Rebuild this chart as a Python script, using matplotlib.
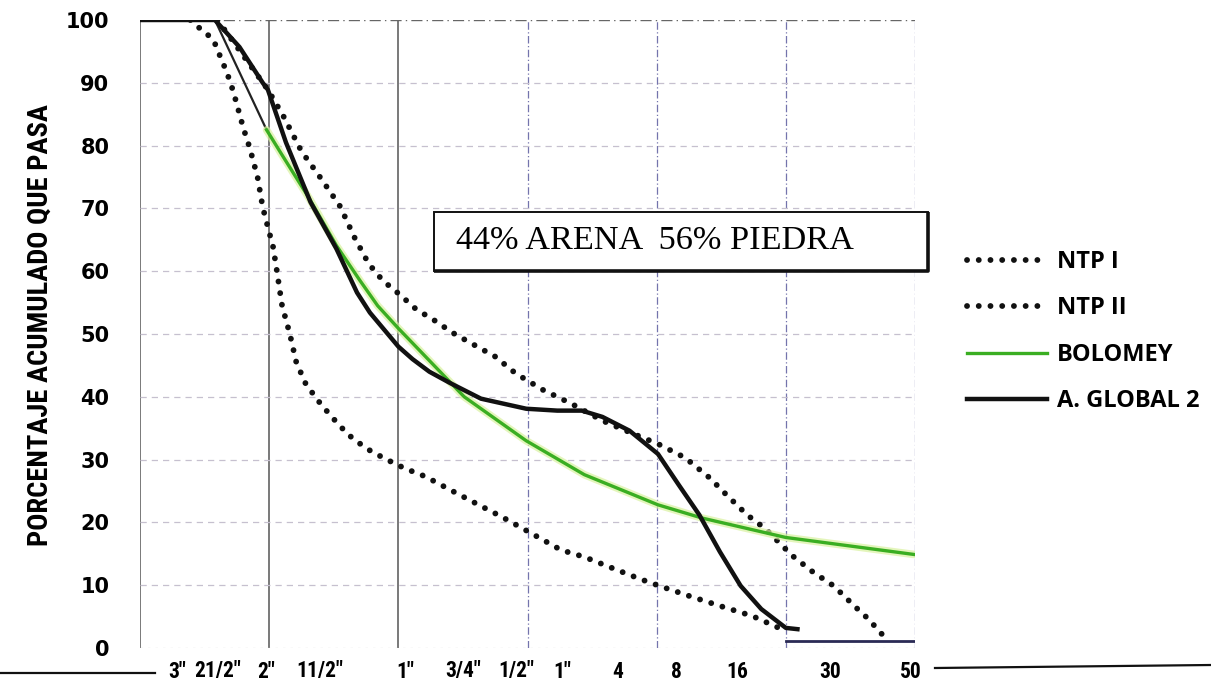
import matplotlib.pyplot as plt
from matplotlib import font_manager as fm
from matplotlib.patches import Rectangle
from matplotlib.lines import Line2D

# sieve positions along the x axis (grid units) and their labels
sieve_pos = [0.29, 0.60, 0.975, 1.39, 2.05, 2.50, 2.91, 3.27, 3.70, 4.15, 4.62, 5.34, 5.97]
sieve_labels = ['3"', '21/2"', '2"', '11/2"', '1"', '3/4"', '1/2"', '1"', '4', '8', '16', '30', '50']

# NTP I (upper limit)
ntp1_x = [0.60, 0.99, 1.11, 1.25, 1.40, 1.55, 1.66, 1.77, 1.88, 2.01, 2.14, 2.27, 2.42,
          2.54, 2.75, 2.91, 3.12, 3.34, 3.58, 3.82, 4.01, 4.22, 4.41, 4.54, 4.70, 4.84,
          5.05, 5.21, 5.37, 5.53, 5.64, 5.77]
ntp1_y = [100, 88.9, 84.7, 79.1, 74.8, 70.3, 65.4, 61.2, 58.5, 56.3, 53.9, 52.3, 50.2,
          48.8, 46.4, 43.7, 41.1, 38.9, 36.2, 34.1, 32.5, 30.3, 27.1, 24.4, 21.2, 19.0,
          14.7, 12.1, 9.9, 6.7, 4.6, 1.6]

# NTP II (lower limit)
ntp2_x = [0.39, 0.43, 0.50, 0.57, 0.60, 0.64, 0.67, 0.70, 0.74, 0.80, 0.85, 0.91, 0.95,
          0.99, 1.03, 1.06, 1.10, 1.16, 1.21, 1.28, 1.37, 1.48, 1.61, 1.75, 1.90, 2.05,
          2.21, 2.40, 2.64, 2.80, 3.00, 3.26, 3.44, 3.61, 3.87, 4.02, 4.25, 4.49, 4.74, 5.00]
ntp2_y = [100, 99.2, 98.1, 96.8, 95.2, 93.3, 91.7, 90.1, 87.3, 82.8, 79.6, 75.0, 70.2,
          67.0, 63.9, 60.0, 54.5, 50.0, 45.5, 42.2, 39.6, 36.9, 34.0, 31.8, 30.1, 28.6,
          27.3, 25.2, 22.6, 20.9, 18.6, 15.6, 14.5, 13.1, 11.0, 9.9, 8.3, 6.7, 5.1, 2.7]

# Bolomey curve
bol_x = [0.58, 0.98, 1.10, 1.31, 1.52, 1.70, 1.84, 2.00, 2.51, 2.99, 3.44, 4.01, 4.35, 5.00, 5.99]
bol_y = [100, 82.5, 78.5, 71.6, 64.1, 58.6, 54.5, 50.9, 40.0, 33.0, 27.6, 22.8, 20.7, 17.6, 14.9]

# combined aggregate A. GLOBAL 2
glob_x = [0.00, 0.58, 0.77, 0.95, 0.99, 1.13, 1.32, 1.52, 1.68, 1.78, 2.00, 2.11, 2.24,
          2.40, 2.64, 2.99, 3.23, 3.42, 3.58, 3.79, 4.01, 4.17, 4.33, 4.49, 4.65, 4.81,
          5.00, 5.09]
glob_y = [100, 100, 95.7, 90.0, 88.9, 80.5, 71.0, 63.6, 56.6, 53.4, 48.0, 46.0, 44.0,
          42.2, 39.7, 38.1, 37.8, 37.8, 36.8, 34.6, 30.9, 26.0, 21.2, 15.3, 9.9, 6.2,
          3.2, 3.0]

# short base segment under the last sieves
base_x = [5.0, 6.0]
base_y = [1.1, 1.1]


def narrow_font():
    """Pick a condensed sans family if one is installed."""
    entries = fm.fontManager.ttflist
    names = {f.name for f in entries}
    for name in ['Liberation Sans Narrow', 'Arial Narrow', 'Roboto Condensed',
                 'Open Sans Condensed', 'DejaVu Sans Condensed']:
        if name in names:
            return {'family': name}
    for f in entries:
        if f.name == 'DejaVu Sans' and str(f.stretch) in ('condensed', 'semi-condensed'):
            return {'family': 'DejaVu Sans', 'stretch': 'condensed'}
    return {'family': 'Roboto'}


narrow = narrow_font()

W, H = 1211, 682
fig = plt.figure(figsize=(W / 100, H / 100), dpi=100)
ax = fig.add_axes([140 / W, 34 / H, 775 / W, 628 / H])
ax.set_xlim(0, 6)
ax.set_ylim(0, 100)
for s in ax.spines.values():
    s.set_visible(False)

# grid
for u in [0, 1, 2]:
    ax.plot([u, u], [0, 100], color='#555555', lw=1.1, zorder=1)
for u in [3, 4, 5, 6]:
    ax.plot([u, u], [0, 100], color='#7474ad', lw=0.9, ls=(0, (6, 2, 1, 2)), zorder=1)
for p in range(10, 100, 10):
    ax.plot([0, 6], [p, p], color='#c6c0cf', lw=0.9, ls=(0, (5, 4)), zorder=1)
ax.plot([0, 6], [100, 100], color='#666666', lw=1.0, ls=(0, (8, 3, 1, 3)), zorder=1)
ax.plot([0, 6], [0, 0], color='#d0d0d0', lw=0.9, ls=(0, (2, 4)), zorder=1)

# text box
ax.add_patch(Rectangle((2.28, 60.0), 3.82, 9.4, facecolor='white', edgecolor='#111111',
                       lw=1.4, clip_on=False, zorder=3))
ax.plot([2.28, 6.10, 6.10], [60.0, 60.0, 69.4], color='#111111', lw=2.6,
        clip_on=False, zorder=3, solid_capstyle='butt')
ax.text(2.45, 64.9, '44% ARENA  56% PIEDRA', family='Liberation Serif', fontsize=24.7,
        ha='left', va='center', zorder=4)

dots = dict(color='#111111', lw=4.2, ls=(0, (0.01, 2.0)), dash_capstyle='round', zorder=5)
l1, = ax.plot(ntp1_x, ntp1_y, label='NTP I', **dots)
l2, = ax.plot(ntp2_x, ntp2_y, label='NTP II', **dots)

ax.plot(bol_x[:2], bol_y[:2], color='#222222', lw=1.6, zorder=5)
ax.plot(bol_x[1:], bol_y[1:], color='#d9f2a0', lw=5.5, alpha=0.7, zorder=5,
        solid_capstyle='round')
l3, = ax.plot(bol_x[1:], bol_y[1:], color='#3aae22', lw=2.4, zorder=6, label='BOLOMEY')

l4, = ax.plot(glob_x, glob_y, color='#111111', lw=3.2, zorder=6, label='A. GLOBAL 2',
              solid_joinstyle='round')
ax.plot(base_x, base_y, color='#2a2a55', lw=2.0, zorder=4)

# axes ticks
ax.set_yticks(range(0, 101, 10))
ax.set_yticklabels([str(v) for v in range(0, 101, 10)], fontsize=15, fontweight='bold',
                   family='DejaVu Sans')
ax.tick_params(axis='y', length=0, pad=22)
ax.set_xticks(sieve_pos)
ax.set_xticklabels(sieve_labels, fontsize=15.5, fontweight='bold', **narrow)
ax.tick_params(axis='x', length=0, pad=9)

fig.text(40 / W, 1 - 325 / H, 'PORCENTAJE ACUMULADO QUE PASA', rotation=90,
         ha='center', va='center', fontsize=20.5, fontweight='bold', **narrow)

fig.legend([l1, l2, l3, l4], ['NTP I', 'NTP II', 'BOLOMEY', 'A. GLOBAL 2'],
           loc='upper left', bbox_to_anchor=(967 / W, 1 - 250 / H), frameon=False,
           borderpad=0, borderaxespad=0, handlelength=3.4, handletextpad=0.42,
           labelspacing=0.95, prop={'family': 'Open Sans', 'weight': 'bold', 'size': 17})

# rules under the axis
fig.add_artist(Line2D([0, 155 / W], [1 - 673 / H] * 2, color='#111111', lw=1.6))
fig.add_artist(Line2D([935 / W, 1], [1 - 668 / H, 1 - 665 / H], color='#111111', lw=1.6))

fig.savefig('out.png', dpi=100)
